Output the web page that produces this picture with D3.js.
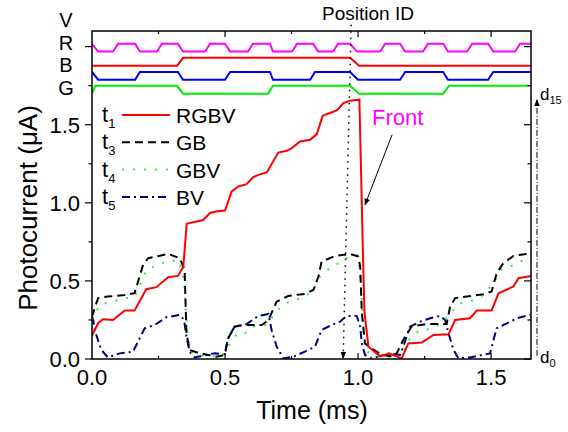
<!DOCTYPE html>
<html>
<head>
<meta charset="utf-8">
<script src="https://cdn.jsdelivr.net/npm/d3@7/dist/d3.min.js"></script>
<style>
    body { margin: 0; background: #fff; }
    text { font-family: "Liberation Sans", Arial, sans-serif; fill: #000; }
</style>
</head>
<body>
<script>
// Photocurrent traces, [time (ms), current (uA)]
var rgbv = [[0.0,0.15],[0.023,0.229],[0.041,0.254],[0.079,0.25],[0.123,0.31],[0.16,0.31],[0.204,0.447],[0.242,0.46],[0.286,0.524],[0.323,0.532],[0.343,0.59],[0.356,0.865],[0.393,0.88],[0.418,0.89],[0.444,0.935],[0.465,0.944],[0.5,0.95],[0.525,1.073],[0.55,1.105],[0.581,1.119],[0.606,1.164],[0.625,1.179],[0.657,1.194],[0.7,1.322],[0.732,1.333],[0.751,1.35],[0.782,1.393],[0.82,1.404],[0.845,1.44],[0.867,1.558],[0.895,1.575],[0.92,1.592],[0.945,1.639],[0.97,1.654],[1.005,1.66],[1.018,0.7],[1.024,0.303],[1.039,0.079],[1.083,0.017],[1.117,0.036],[1.164,0.004],[1.189,0.1],[1.24,0.105],[1.283,0.154],[1.34,0.158],[1.365,0.25],[1.421,0.261],[1.446,0.31],[1.502,0.31],[1.528,0.421],[1.584,0.464],[1.603,0.517],[1.653,0.532]];
var gb = [[0.0,0.27],[0.01,0.325],[0.023,0.39],[0.06,0.4],[0.123,0.41],[0.16,0.421],[0.192,0.603],[0.211,0.645],[0.286,0.673],[0.33,0.645],[0.348,0.571],[0.355,0.164],[0.367,0.058],[0.398,0.04],[0.467,0.015],[0.499,0.026],[0.511,0.13],[0.536,0.207],[0.569,0.218],[0.638,0.218],[0.663,0.25],[0.694,0.367],[0.738,0.404],[0.8,0.417],[0.832,0.442],[0.851,0.528],[0.863,0.624],[0.914,0.66],[0.97,0.673],[1.001,0.656],[1.008,0.592],[1.014,0.3],[1.026,0.1],[1.051,0.068],[1.089,0.026],[1.139,0.015],[1.17,0.122],[1.202,0.21],[1.258,0.224],[1.333,0.224],[1.346,0.335],[1.365,0.39],[1.471,0.415],[1.502,0.432],[1.521,0.549],[1.546,0.613],[1.584,0.66],[1.634,0.673],[1.653,0.681]];
var gbv = [[0.0,0.25],[0.029,0.346],[0.06,0.361],[0.098,0.378],[0.16,0.4],[0.18,0.47],[0.204,0.571],[0.267,0.617],[0.323,0.635],[0.342,0.55],[0.347,0.47],[0.353,0.3],[0.36,0.14],[0.372,0.047],[0.43,0.015],[0.49,0.02],[0.506,0.068],[0.544,0.16],[0.575,0.164],[0.606,0.207],[0.66,0.22],[0.69,0.3],[0.726,0.357],[0.763,0.374],[0.826,0.425],[0.857,0.528],[0.901,0.592],[0.932,0.617],[0.963,0.652],[0.995,0.667],[1.008,0.55],[1.014,0.378],[1.02,0.186],[1.026,0.058],[1.06,0.02],[1.12,0.01],[1.164,0.005],[1.183,0.1],[1.2,0.143],[1.233,0.186],[1.264,0.19],[1.315,0.228],[1.345,0.29],[1.383,0.357],[1.421,0.367],[1.471,0.41],[1.509,0.485],[1.54,0.575],[1.571,0.592],[1.603,0.617],[1.634,0.645],[1.653,0.667]];
var bv = [[0.0,0.27],[0.004,0.256],[0.01,0.186],[0.035,0.058],[0.06,0.01],[0.104,0.036],[0.154,0.047],[0.173,0.111],[0.198,0.197],[0.236,0.218],[0.279,0.267],[0.33,0.282],[0.346,0.25],[0.355,0.143],[0.367,0.047],[0.386,0.01],[0.461,0.036],[0.499,0.032],[0.511,0.132],[0.536,0.207],[0.581,0.224],[0.625,0.276],[0.663,0.288],[0.675,0.186],[0.694,0.079],[0.719,0.004],[0.757,0.015],[0.8,0.047],[0.838,0.079],[0.863,0.186],[0.901,0.218],[0.932,0.239],[0.957,0.276],[0.995,0.276],[1.008,0.207],[1.014,0.1],[1.026,0.026],[1.051,0.004],[1.083,0.02],[1.12,0.036],[1.158,0.026],[1.17,0.079],[1.195,0.207],[1.233,0.239],[1.271,0.261],[1.308,0.276],[1.327,0.25],[1.34,0.164],[1.359,0.058],[1.377,0.004],[1.421,0.01],[1.496,0.036],[1.509,0.122],[1.521,0.197],[1.559,0.228],[1.597,0.261],[1.647,0.282]];

// Drive signals, [time (ms), state 0/1]
var sigV = [[0,1],[0.023,0],[0.079,0],[0.098,1],[0.162,1],[0.180,0],[0.244,0],[0.263,1],[0.323,1],[0.342,0],[0.425,0],[0.444,1],[0.500,1],[0.519,0],[0.586,0],[0.605,1],[0.669,1],[0.680,0],[0.752,0],[0.771,1],[0.831,1],[0.850,0],[0.906,0],[0.925,1],[0.970,1],[0.996,0],[1.083,0],[1.102,1],[1.158,1],[1.177,0],[1.244,0],[1.263,1],[1.320,1],[1.338,0],[1.410,0],[1.429,1],[1.489,1],[1.508,0],[1.590,0],[1.609,1],[1.654,1]];
var sigR = [[0,0],[0.320,0],[0.342,1],[0.970,1],[1.004,0],[1.654,0]];
var sigB = [[0,1],[0.023,0],[0.162,0],[0.180,1],[0.323,1],[0.342,0],[0.500,0],[0.519,1],[0.669,1],[0.680,0],[0.820,0],[0.838,1],[0.970,1],[1.000,0],[1.158,0],[1.177,1],[1.320,1],[1.338,0],[1.489,0],[1.508,1],[1.654,1]];
var sigG = [[0,0],[0.012,1],[0.320,1],[0.342,0],[0.662,0],[0.680,1],[0.970,1],[1.004,0],[1.320,0],[1.342,1],[1.654,1]];

var legendNames = ["RGBV", "GB", "GBV", "BV"];
var legendSubs = ["1", "3", "4", "5"];
var signalNames = ["V", "R", "B", "G"];
var xTickLabels = ["0.0", "0.5", "1.0", "1.5"];
var yTickLabels = ["0.0", "0.5", "1.0", "1.5"];

var width = 568, height = 432;
var margin = {left: 92, right: 37, top: 31, bottom: 73};

var svg = d3.select("body").append("svg")
    .attr("width", width)
    .attr("height", height);

var x = d3.scaleLinear().domain([0, 1.65]).range([margin.left, width - margin.right]);
var y = d3.scaleLinear().domain([0, 2.1]).range([height - margin.bottom, margin.top]);

// Arrow heads
var defs = svg.append("defs");
defs.append("marker")
    .attr("id", "arrow")
    .attr("viewBox", "0 0 10 10")
    .attr("refX", 9).attr("refY", 5)
    .attr("markerWidth", 7).attr("markerHeight", 7)
    .attr("markerUnits", "userSpaceOnUse")
    .attr("orient", "auto")
    .append("path")
    .attr("d", "M0,1 L10,5 L0,9 Z")
    .attr("fill", "#000");

defs.append("clipPath").attr("id", "plotClip")
    .append("rect")
    .attr("x", x(0)).attr("y", y(2.1))
    .attr("width", x(1.65) - x(0))
    .attr("height", y(0) - y(2.1));

var line = d3.line()
    .x(function (d) { return x(d[0]); })
    .y(function (d) { return y(d[1]); });

var plot = svg.append("g").attr("clip-path", "url(#plotClip)");

// Drive signals stacked above the traces
var signals = [
    {data: sigV, base: 1.968, color: "#ff00ff"},
    {data: sigR, base: 1.878, color: "#ff0000"},
    {data: sigB, base: 1.788, color: "#0000ff"},
    {data: sigG, base: 1.699, color: "#00ee00"}
];
var step = 0.05;
signals.forEach(function (s) {
    plot.append("path")
        .attr("d", d3.line()
            .x(function (d) { return x(d[0]); })
            .y(function (d) { return y(s.base + d[1] * step); })(s.data))
        .attr("fill", "none")
        .attr("stroke", s.color)
        .attr("stroke-width", 2);
});

// Traces
var series = [
    {data: rgbv, color: "#ff0000", dash: null, w: 2},
    {data: gb, color: "#000000", dash: "8,5", w: 2},
    {data: gbv, color: "#33ee33", dash: "2,9", w: 2},
    {data: bv, color: "#000080", dash: "8,4,2,4", w: 2}
];
series.slice().reverse().forEach(function (s) {
    plot.append("path")
        .attr("d", line(s.data))
        .attr("fill", "none")
        .attr("stroke", s.color)
        .attr("stroke-width", s.w)
        .attr("stroke-dasharray", s.dash);
});

// Frame
svg.append("rect")
    .attr("x", x(0)).attr("y", y(2.1))
    .attr("width", x(1.65) - x(0))
    .attr("height", y(0) - y(2.1))
    .attr("fill", "none")
    .attr("stroke", "#000")
    .attr("stroke-width", 1.5);

// Ticks: left outward, the others inward
var xMajor = [0.5, 1.0, 1.5], xMinor = [0.25, 0.75, 1.25];
var yMajor = [0, 0.5, 1.0, 1.5, 2.0], yMinor = [0.25, 0.75, 1.25, 1.75];
var ticks = svg.append("g").attr("stroke", "#000").attr("stroke-width", 1.2);
function xTick(v, len) {
    ticks.append("line").attr("x1", x(v)).attr("x2", x(v)).attr("y1", y(0)).attr("y2", y(0) - len);
    ticks.append("line").attr("x1", x(v)).attr("x2", x(v)).attr("y1", y(2.1)).attr("y2", y(2.1) + len);
}
function yTick(v, len) {
    ticks.append("line").attr("x1", x(0)).attr("x2", x(0) - len).attr("y1", y(v)).attr("y2", y(v));
    ticks.append("line").attr("x1", x(1.65)).attr("x2", x(1.65) - len).attr("y1", y(v)).attr("y2", y(v));
}
xMajor.forEach(function (v) { xTick(v, 6); });
xMinor.forEach(function (v) { xTick(v, 3); });
yMajor.forEach(function (v) { yTick(v, 7); });
yMinor.forEach(function (v) { yTick(v, 3.5); });

// Tick labels
svg.selectAll(".xlab").data(xTickLabels).enter()
    .append("text")
    .attr("x", function (d) { return x(+d); })
    .attr("y", y(0) + 26)
    .attr("text-anchor", "middle")
    .style("font-size", "22px")
    .text(function (d) { return d; });

svg.selectAll(".ylab").data(yTickLabels).enter()
    .append("text")
    .attr("x", x(0) - 12)
    .attr("y", function (d) { return y(+d) + 8; })
    .attr("text-anchor", "end")
    .style("font-size", "22px")
    .text(function (d) { return d; });

// Axis titles
svg.append("text")
    .attr("x", 312).attr("y", 419)
    .attr("text-anchor", "middle")
    .style("font-size", "25px")
    .text("Time (ms)");

svg.append("text")
    .attr("transform", "translate(37," + 208 + ") rotate(-90)")
    .attr("text-anchor", "middle")
    .style("font-size", "26px")
    .text("Photocurrent (\u03bcA)");

// Signal names left of the axis
svg.selectAll(".sig").data(signalNames).enter()
    .append("text")
    .attr("x", 66)
    .attr("y", function (d, i) { return 27 + i * 22.7; })
    .attr("text-anchor", "middle")
    .style("font-size", "20px")
    .text(function (d) { return d; });

// Legend
var lg = svg.append("g");
series.forEach(function (s, i) {
    var ly = 115 + i * 27.3;
    var t = lg.append("text").attr("x", 102).attr("y", ly + 7).style("font-size", "22px");
    t.append("tspan").text("t");
    t.append("tspan").attr("dy", 6).style("font-size", "13px").text(legendSubs[i]);
    lg.append("line")
        .attr("x1", 122).attr("x2", 170)
        .attr("y1", ly).attr("y2", ly)
        .attr("stroke", s.color)
        .attr("stroke-width", s.w)
        .attr("stroke-dasharray", s.dash);
    lg.append("text")
        .attr("x", 176).attr("y", ly + 8)
        .style("font-size", "21px")
        .text(legendNames[i]);
});

// Position ID marker
svg.append("text")
    .attr("x", 368).attr("y", 20)
    .attr("text-anchor", "middle")
    .style("font-size", "19px")
    .text("Position ID");
svg.append("line")
    .attr("x1", x(0.974)).attr("y1", y(2.14))
    .attr("x2", x(0.944)).attr("y2", y(0.005))
    .attr("stroke", "#000")
    .attr("stroke-width", 1.5)
    .attr("stroke-dasharray", "1.5,5")
    .attr("marker-end", "url(#arrow)");

// Front annotation
svg.append("text")
    .attr("x", 372).attr("y", 125)
    .style("font-size", "22px")
    .style("fill", "#ff00ff")
    .text("Front");
svg.append("line")
    .attr("x1", x(1.128)).attr("y1", y(1.436))
    .attr("x2", x(1.026)).attr("y2", y(0.987))
    .attr("stroke", "#000")
    .attr("stroke-width", 1)
    .attr("marker-end", "url(#arrow)");

// Distance scale on the right
svg.append("line")
    .attr("x1", 537).attr("y1", y(0.02))
    .attr("x2", 537).attr("y2", y(1.66))
    .attr("stroke", "#000")
    .attr("stroke-width", 1)
    .attr("stroke-dasharray", "6,2,1,2")
    .attr("marker-end", "url(#arrow)");

var d15 = svg.append("text").attr("x", 540).attr("y", 100).style("font-size", "17px");
d15.append("tspan").text("d");
d15.append("tspan").attr("dy", 4).style("font-size", "11px").text("15");
var d0 = svg.append("text").attr("x", 540).attr("y", 363).style("font-size", "17px");
d0.append("tspan").text("d");
d0.append("tspan").attr("dy", 4).style("font-size", "11px").text("0");
</script>
</body>
</html>
